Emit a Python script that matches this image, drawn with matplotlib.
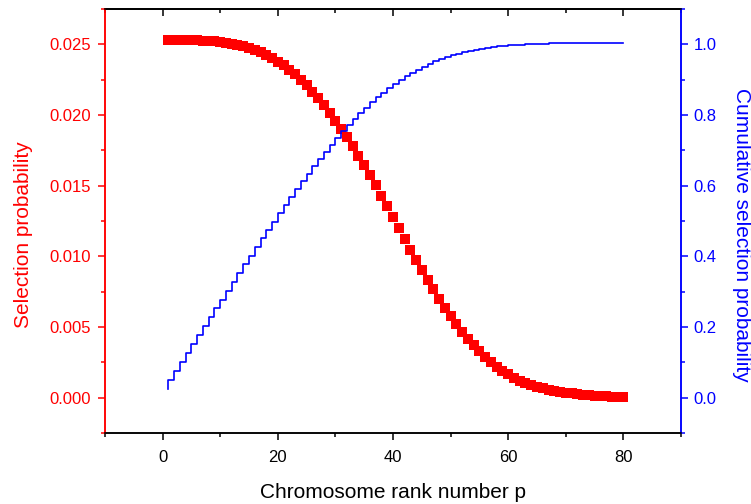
import numpy as np
from matplotlib import pyplot as plt
from matplotlib.ticker import MultipleLocator

plt.rcParams['font.family'] = ['Liberation Sans', 'DejaVu Sans']

# Rank numbers and selection probability
rank = list(range(1, 81))
selection_prob = [
    0.02530, 0.02530, 0.02530, 0.02530, 0.02529, 0.02528, 0.02527, 0.02524, 0.02521, 0.02517,
    0.02512, 0.02505, 0.02497, 0.02486, 0.02474, 0.02460, 0.02443, 0.02424, 0.02403, 0.02378,
    0.02351, 0.02320, 0.02287, 0.02250, 0.02209, 0.02166, 0.02119, 0.02070, 0.02017, 0.01961,
    0.01903, 0.01843, 0.01779, 0.01713, 0.01645, 0.01575, 0.01503, 0.01429, 0.01354, 0.01278,
    0.01201, 0.01121, 0.01045, 0.00974, 0.00903, 0.00834, 0.00767, 0.00700, 0.00637, 0.00576,
    0.00520, 0.00466, 0.00416, 0.00370, 0.00328, 0.00288, 0.00253, 0.00220, 0.00191, 0.00164,
    0.00140, 0.00120, 0.00102, 0.00088, 0.00076, 0.00065, 0.00056, 0.00048, 0.00041, 0.00035,
    0.00030, 0.00025, 0.00021, 0.00018, 0.00015, 0.00012, 0.00010, 0.00008, 0.00006, 0.00005,
]
# cumulative selection probability
cumulative_prob = np.cumsum(selection_prob)

red = '#ff0000'
blue = '#0000ff'

fig = plt.figure(figsize=(7.51, 5.04), dpi=100)
ax = fig.add_axes([0.1398, 0.1409, 0.767, 0.8412])
ax2 = ax.twinx()

ax.plot(rank, selection_prob, linestyle='none', marker='s', markersize=6.5,
        color=red, markeredgewidth=0, zorder=3)
ax2.plot(rank, cumulative_prob, drawstyle='steps-pre', color=blue, linewidth=1.2)

ax.set_xlim(-10, 90)
ax.set_ylim(-0.0025, 0.0275)
ax2.set_ylim(-0.1, 1.1)

ax.xaxis.set_major_locator(MultipleLocator(20))
ax.xaxis.set_minor_locator(MultipleLocator(10))
ax.yaxis.set_major_locator(MultipleLocator(0.005))
ax.yaxis.set_minor_locator(MultipleLocator(0.0025))
ax2.yaxis.set_major_locator(MultipleLocator(0.2))
ax2.yaxis.set_minor_locator(MultipleLocator(0.1))
ax.yaxis.set_major_formatter(plt.FormatStrFormatter('%.3f'))
ax2.yaxis.set_major_formatter(plt.FormatStrFormatter('%.1f'))

for side in ['left', 'right', 'top', 'bottom']:
    ax.spines[side].set_linewidth(1.1)
    ax2.spines[side].set_linewidth(1.1)
ax.spines['left'].set_color(red)
ax2.spines['left'].set_color(red)
ax2.spines['right'].set_color(blue)
ax.spines['right'].set_color(blue)

ax.tick_params(axis='x', which='major', direction='out', length=5, width=1.1, labelsize=12, pad=7)
ax.tick_params(axis='x', which='minor', direction='out', length=3, width=1.1)
ax.tick_params(axis='y', which='major', direction='out', length=5, width=1.1,
               colors=red, labelsize=12, pad=5)
ax.tick_params(axis='y', which='minor', direction='out', length=3, width=1.1, colors=red)
ax2.tick_params(axis='y', which='major', direction='out', length=5, width=1.1,
                colors=blue, labelsize=12, pad=4)
ax2.tick_params(axis='y', which='minor', direction='out', length=3, width=1.1, colors=blue)

# mirror ticks on top pointing inward
top = ax.secondary_xaxis('top')
top.xaxis.set_major_locator(MultipleLocator(20))
top.xaxis.set_minor_locator(MultipleLocator(10))
top.tick_params(which='major', direction='in', length=5, width=1.1, labeltop=False)
top.tick_params(which='minor', direction='in', length=3, width=1.1)
top.spines['top'].set_linewidth(1.1)

ax.set_xlabel('Chromosome rank number p', fontsize=15, labelpad=13)
ax.set_ylabel('Selection probability', fontsize=15, color=red, labelpad=12)
ax2.set_ylabel('Cumulative selection probability', fontsize=15, color=blue,
               rotation=270, labelpad=25)
# both y titles sit a bit below the middle of the axis
ax.yaxis.label.set_y(0.467)
ax2.yaxis.label.set_y(0.467)

plt.savefig('out.png', dpi=100)
